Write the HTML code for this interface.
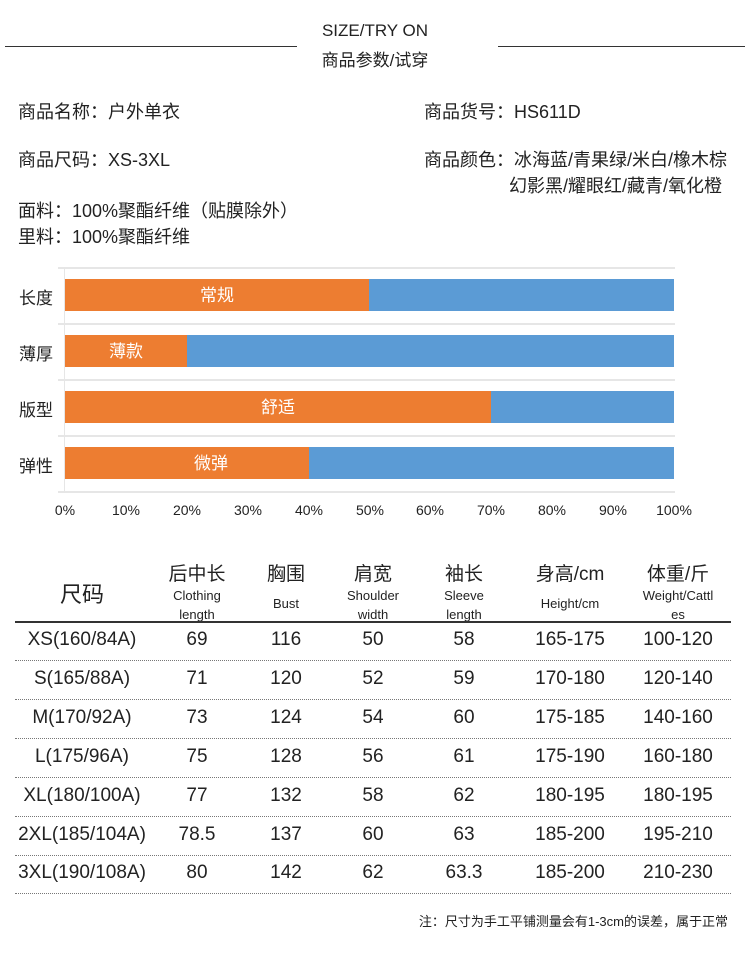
<!DOCTYPE html>
<html><head><meta charset="utf-8"><style>
body{margin:0;width:750px;height:960px;background:#fff;position:relative;font-family:"Liberation Sans","Noto Sans CJK SC",sans-serif;color:#222;overflow:hidden}
.a{position:absolute;white-space:nowrap}
.c{transform:translateX(-50%);text-align:center}
.bar{position:absolute;height:32px}
.o{background:#ed7d31;color:#fff;font-size:17px;line-height:34px;text-align:center}
.b{background:#5b9bd5}
.g{position:absolute;left:58px;width:617px;height:2px;background:#e6e6e6}
.cell{position:absolute;transform:translateX(-50%);font-size:19px;white-space:nowrap}
.dl{position:absolute;left:15px;width:716px;border-top:1px dotted #777}
</style></head><body>
<div class="a c" style="left:375px;top:21px;font-size:17px">SIZE/TRY ON</div>
<div class="a c" style="left:375px;top:46px;font-size:17px">商品参数/试穿</div>
<div class="a" style="left:5px;top:46px;width:292px;height:1px;background:#333"></div>
<div class="a" style="left:498px;top:46px;width:247px;height:1px;background:#333"></div>

<div class="a" style="left:18px;top:98px;font-size:18px">商品名称：户外单衣</div>
<div class="a" style="left:424px;top:98px;font-size:18px">商品货号：HS611D</div>
<div class="a" style="left:18px;top:146px;font-size:18px">商品尺码：XS-3XL</div>
<div class="a" style="left:424px;top:146px;font-size:18px">商品颜色：冰海蓝/青果绿/米白/橡木棕</div>
<div class="a" style="left:509px;top:172px;font-size:18px">幻影黑/耀眼红/藏青/氧化橙</div>
<div class="a" style="left:18px;top:197px;font-size:18px">面料：100%聚酯纤维（贴膜除外）</div>
<div class="a" style="left:18px;top:223px;font-size:18px">里料：100%聚酯纤维</div>

<div class="g" style="top:267px"></div><div class="g" style="top:323px"></div><div class="g" style="top:379px"></div><div class="g" style="top:435px"></div><div class="g" style="top:491px"></div>
<div class="a" style="left:64px;top:267px;width:1px;height:226px;background:#e6e6e6"></div>

<div class="bar b" style="left:65px;width:609px;top:279px"></div><div class="bar o" style="left:65px;width:304px;top:279px">常规</div>
<div class="bar b" style="left:65px;width:609px;top:335px"></div><div class="bar o" style="left:65px;width:122px;top:335px">薄款</div>
<div class="bar b" style="left:65px;width:609px;top:391px"></div><div class="bar o" style="left:65px;width:426px;top:391px">舒适</div>
<div class="bar b" style="left:65px;width:609px;top:447px"></div><div class="bar o" style="left:65px;width:244px;top:447px;text-indent:48px">微弹</div>
<div class="a" style="left:19px;top:284px;font-size:17px">长度</div>
<div class="a" style="left:19px;top:340px;font-size:17px">薄厚</div>
<div class="a" style="left:19px;top:396px;font-size:17px">版型</div>
<div class="a" style="left:19px;top:452px;font-size:17px">弹性</div>
<div style="position:absolute;top:502px;left:0;font-size:14px">
<span class="a c" style="left:65px">0%</span><span class="a c" style="left:126px">10%</span><span class="a c" style="left:187px">20%</span><span class="a c" style="left:248px">30%</span><span class="a c" style="left:309px">40%</span><span class="a c" style="left:370px">50%</span><span class="a c" style="left:430px">60%</span><span class="a c" style="left:491px">70%</span><span class="a c" style="left:552px">80%</span><span class="a c" style="left:613px">90%</span><span class="a c" style="left:674px">100%</span>
</div>

<div class="cell" style="left:82px;top:577px;font-size:22px">尺码</div>
<div class="cell" style="left:197px;top:559px;font-size:19px">后中长</div>
<div class="cell" style="left:286px;top:559px;font-size:19px">胸围</div>
<div class="cell" style="left:373px;top:559px;font-size:19px">肩宽</div>
<div class="cell" style="left:464px;top:559px;font-size:19px">袖长</div>
<div class="cell" style="left:570px;top:559px;font-size:19px">身高/cm</div>
<div class="cell" style="left:678px;top:559px;font-size:19px">体重/斤</div>
<div class="cell" style="left:197px;top:586px;font-size:13px;line-height:19px;text-align:center">Clothing<br>length</div>
<div class="cell" style="left:286px;top:596px;font-size:13px">Bust</div>
<div class="cell" style="left:373px;top:586px;font-size:13px;line-height:19px;text-align:center">Shoulder<br>width</div>
<div class="cell" style="left:464px;top:586px;font-size:13px;line-height:19px;text-align:center">Sleeve<br>length</div>
<div class="cell" style="left:570px;top:596px;font-size:13px">Height/cm</div>
<div class="cell" style="left:678px;top:586px;font-size:13px;line-height:19px;text-align:center">Weight/Cattl<br>es</div>
<div class="a" style="left:15px;top:621px;width:716px;height:2px;background:#333"></div>

<div id="rows"></div>
<script>
var d=[["XS(160/84A)","69","116","50","58","165-175","100-120"],["S(165/88A)","71","120","52","59","170-180","120-140"],["M(170/92A)","73","124","54","60","175-185","140-160"],["L(175/96A)","75","128","56","61","175-190","160-180"],["XL(180/100A)","77","132","58","62","180-195","180-195"],["2XL(185/104A)","78.5","137","60","63","185-200","195-210"],["3XL(190/108A)","80","142","62","63.3","185-200","210-230"]];
var x=[82,197,286,373,464,570,678],h="";
d.forEach(function(r,i){var t=629+i*38.9;r.forEach(function(v,j){h+='<div class="cell" style="left:'+x[j]+'px;top:'+t+'px">'+v+'</div>'});h+='<div class="dl" style="top:'+(t+31)+'px"></div>';});
document.getElementById("rows").innerHTML=h;
</script>
<div class="a" style="right:22px;top:911px;font-size:13px">注：尺寸为手工平铺测量会有1-3cm的误差，属于正常</div>
</body></html>
